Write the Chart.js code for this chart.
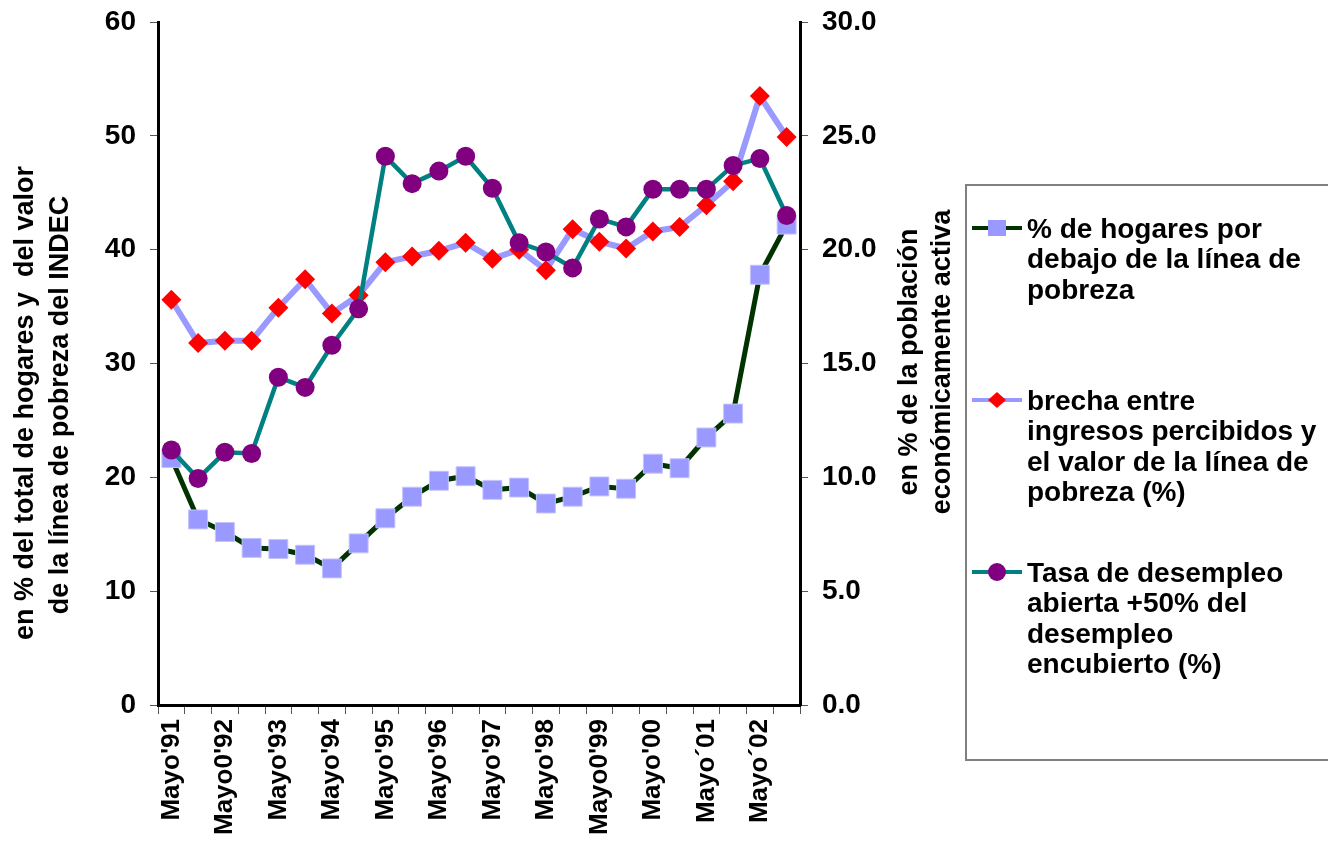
<!DOCTYPE html>
<html>
<head>
<meta charset="utf-8">
<script src="https://cdn.jsdelivr.net/npm/chart.js@4"></script>
<style>
  body { margin: 0; background: #fff; }
  #chart { display: block; }
</style>
</head>
<body>
<canvas id="chart" width="1328" height="842"></canvas>
<script>
// categories: May and October survey waves 1991-2002
const categories = [
    "Mayo'91", "Oct'91", "Mayo'92", "Oct'92", "Mayo'93", "Oct'93",
    "Mayo'94", "Oct'94", "Mayo'95", "Oct'95", "Mayo'96", "Oct'96",
    "Mayo'97", "Oct'97", "Mayo'98", "Oct'98", "Mayo'99", "Oct'99",
    "Mayo'00", "Oct'00", "Mayo'01", "Oct'01", "Mayo'02", "Oct'02"
];
// only every other category gets a label on the axis
const tickLabels = [
    "Mayo'91", "Mayo0'92", "Mayo'93", "Mayo'94", "Mayo'95", "Mayo'96",
    "Mayo'97", "Mayo'98", "Mayo0'99", "Mayo'00", "Mayo´01", "Mayo´02"
];

const hogares = [
    21.7, 16.3, 15.2, 13.8, 13.7, 13.2, 12.0, 14.2, 16.4, 18.3, 19.7, 20.1,
    18.9, 19.1, 17.7, 18.3, 19.2, 19.0, 21.2, 20.8, 23.5, 25.6, 37.8, 42.2
];
const brecha = [
    35.6, 31.8, 32.0, 32.0, 34.9, 37.4, 34.4, 36.0, 38.9, 39.4, 39.9, 40.6,
    39.2, 40.0, 38.2, 41.8, 40.7, 40.1, 41.6, 42.0, 43.9, 46.0, 53.5, 49.9
];
const desempleo = [
    11.2, 9.95, 11.1, 11.05, 14.4, 13.95, 15.8, 17.4, 24.1, 22.9, 23.45, 24.1,
    22.7, 20.3, 19.9, 19.2, 21.35, 21.0, 22.65, 22.65, 22.65, 23.7, 24.0, 21.5
];

const legendLines = [
    ['% de hogares por', 'debajo de la línea de', 'pobreza'],
    ['brecha entre', 'ingresos percibidos y', 'el valor de la línea de', 'pobreza (%)'],
    ['Tasa de desempleo', 'abierta +50% del', 'desempleo', 'encubierto (%)']
];
const leftTitle = ['en % del total de hogares y  del valor', 'de la línea de pobreza del INDEC'];
const rightTitle = ['en % de la población', 'económicamente activa'];

const FONT = '"Liberation Sans", Arial, sans-serif';

// axis titles drawn by hand so the right one reads bottom-to-top like the left one
const axisTitles = {
    id: 'axisTitles',
    afterDraw(chart) {
        const ctx = chart.ctx;
        ctx.save();
        ctx.fillStyle = '#000';
        ctx.font = 'bold 27px ' + FONT;
        ctx.textAlign = 'center';
        ctx.textBaseline = 'middle';
        const put = (x, y, t) => {
            ctx.save();
            ctx.translate(x, y);
            ctx.rotate(-Math.PI / 2);
            ctx.fillText(t, 0, 0);
            ctx.restore();
        };
        put(26, 403, leftTitle[0]);
        put(61, 405, leftTitle[1]);
        put(910, 362, rightTitle[0]);
        put(943, 362, rightTitle[1]);
        ctx.restore();
    }
};

// boxed legend on the right with wrapped labels
const boxLegend = {
    id: 'boxLegend',
    afterDraw(chart) {
        const ctx = chart.ctx;
        ctx.save();
        ctx.strokeStyle = '#808080';
        ctx.lineWidth = 2;
        ctx.strokeRect(966, 185, 400, 575);

        const entryY = [228, 400, 572];
        chart.data.datasets.forEach((ds, i) => {
            const y = entryY[i];
            ctx.strokeStyle = ds.borderColor;
            ctx.lineWidth = 4;
            ctx.beginPath();
            ctx.moveTo(972, y);
            ctx.lineTo(1022, y);
            ctx.stroke();

            ctx.fillStyle = ds.pointBackgroundColor;
            ctx.beginPath();
            if (ds.pointStyle === 'rect') {
                ctx.rect(997 - 9, y - 8, 18, 16);
            } else if (ds.pointStyle === 'rectRot') {
                ctx.moveTo(997 - 9, y); ctx.lineTo(997, y - 8);
                ctx.lineTo(997 + 9, y); ctx.lineTo(997, y + 8);
                ctx.closePath();
            } else {
                ctx.arc(997, y, 9, 0, Math.PI * 2);
            }
            ctx.fill();

            ctx.fillStyle = '#000';
            ctx.font = 'bold 28px ' + FONT;
            ctx.textAlign = 'left';
            ctx.textBaseline = 'middle';
            legendLines[i].forEach((line, k) => {
                ctx.fillText(line, 1027, y + 2 + k * 30.5);
            });
        });
        ctx.restore();
    }
};

const tickFont = { family: FONT, size: 28, weight: 'bold' };
const noPad = (s) => { s.paddingTop = 0; s.paddingBottom = 0; };

new Chart(document.getElementById('chart').getContext('2d'), {
    type: 'line',
    data: {
        labels: categories,
        datasets: [{
            label: legendLines[0].join(' '),
            data: hogares,
            yAxisID: 'y',
            borderColor: '#003300',
            borderWidth: 5,
            pointStyle: 'rect',
            pointRadius: 13.4,
            pointBackgroundColor: '#9999FF',
            pointBorderColor: '#c4c4ff',
            pointBorderWidth: 1,
            tension: 0,
            order: 3
        }, {
            label: legendLines[1].join(' '),
            data: brecha,
            yAxisID: 'y',
            borderColor: '#9999FF',
            borderWidth: 6,
            pointStyle: 'rectRot',
            pointRadius: 10,
            pointBackgroundColor: '#FF0000',
            pointBorderColor: '#FF0000',
            pointBorderWidth: 0,
            tension: 0,
            order: 2
        }, {
            label: legendLines[2].join(' '),
            data: desempleo,
            yAxisID: 'y1',
            borderColor: '#008080',
            borderWidth: 4.5,
            pointStyle: 'circle',
            pointRadius: 9.5,
            pointBackgroundColor: '#800080',
            pointBorderColor: '#800080',
            pointBorderWidth: 0,
            tension: 0,
            order: 1
        }]
    },
    options: {
        responsive: false,
        animation: false,
        devicePixelRatio: 1,
        events: [],
        layout: { padding: { top: 22, right: 362, left: 0, bottom: 0 } },
        plugins: {
            legend: { display: false },
            tooltip: { enabled: false }
        },
        scales: {
            x: {
                offset: true,
                grid: { display: true, drawOnChartArea: false, offset: true, tickLength: 9, color: '#555', lineWidth: 1 },
                border: { color: '#000', width: 3 },
                ticks: {
                    autoSkip: false,
                    minRotation: 90,
                    maxRotation: 90,
                    padding: 5,
                    color: '#000',
                    font: { family: FONT, size: 26, weight: 'bold' },
                    callback: (v, i) => (i % 2 === 0 ? tickLabels[i / 2] : '')
                },
                afterFit: (s) => { s.height = 137; }
            },
            y: {
                position: 'left',
                min: 0,
                max: 60,
                grid: { drawOnChartArea: false, tickLength: 8, color: '#555' },
                border: { color: '#000', width: 3 },
                ticks: { stepSize: 10, padding: 14, color: '#000', font: tickFont },
                afterFit: (s) => { s.width = 158; noPad(s); }
            },
            y1: {
                position: 'right',
                min: 0,
                max: 30,
                grid: { drawOnChartArea: false, tickLength: 8, color: '#555' },
                border: { color: '#000', width: 3 },
                ticks: { stepSize: 5, padding: 14, color: '#000', font: tickFont, callback: (v) => v.toFixed(1) },
                afterFit: (s) => { s.width = 166; noPad(s); }
            }
        }
    },
    plugins: [axisTitles, boxLegend]
});
</script>
</body>
</html>
